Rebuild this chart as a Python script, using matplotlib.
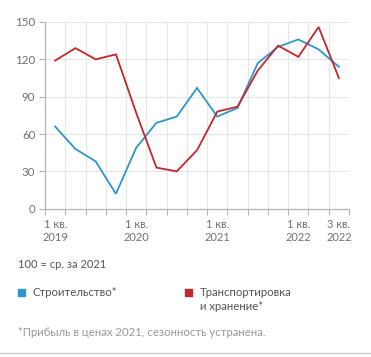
import matplotlib
matplotlib.use("Agg")
import matplotlib.pyplot as plt
from matplotlib.patches import Rectangle
from matplotlib.lines import Line2D

plt.rcParams['font.family'] = ['Lato', 'DejaVu Sans']

quarters = ["1 кв. 2019", "2 кв. 2019", "3 кв. 2019", "4 кв. 2019",
            "1 кв. 2020", "2 кв. 2020", "3 кв. 2020", "4 кв. 2020",
            "1 кв. 2021", "2 кв. 2021", "3 кв. 2021", "4 кв. 2021",
            "1 кв. 2022", "2 кв. 2022", "3 кв. 2022"]
construction = [66, 48, 38, 12, 49, 69, 74, 97, 74, 81, 117, 130, 136, 128, 114]
transport = [119, 129, 120, 124, 77, 33, 30, 47, 78, 82, 111, 131, 122, 146, 105]
tick_idx = [0, 4, 8, 12, 14]
tick_labels = ["1 кв.\n2019", "1 кв.\n2020", "1 кв.\n2021", "1 кв.\n2022", "3 кв.\n2022"]
yticks = [0, 30, 60, 90, 120, 150]

blue = "#2E96C8"
red = "#C1272D"
grid_c = "#E6E6E6"
axis_c = "#B5B5B5"
tick_c = "#707070"

W, H = 371, 357
fig = plt.figure(figsize=(W / 100, H / 100), dpi=100)
fig.patch.set_facecolor("white")
ax = fig.add_axes([45 / W, 1 - 208.7 / H, (349 - 45) / W, (208.7 - 22) / H])

xs = [i + 0.5 for i in range(len(quarters))]
ax.plot(xs, construction, color=blue, lw=1.3, solid_joinstyle="miter", zorder=3)
ax.plot(xs, transport, color=red, lw=1.3, solid_joinstyle="miter", zorder=3)

ax.set_xlim(0, 15)
ax.set_ylim(0, 150)
for v in range(1, 16):
    ax.axvline(v, color=grid_c, lw=0.8, zorder=1)
for v in yticks[1:]:
    ax.axhline(v, color=grid_c, lw=0.8, zorder=1)

ax.set_yticks(yticks)
ax.set_yticklabels([str(v) for v in yticks])
ax.set_xticks(list(range(16)), minor=True)
ax.set_xticks([xs[i] for i in tick_idx])
ax.set_xticklabels(tick_labels, linespacing=1.25)
ax.tick_params(axis="x", which="major", length=0, pad=7.5, labelsize=8.0, labelcolor=tick_c)
ax.tick_params(axis="x", which="minor", length=4, color=axis_c, width=0.8)
ax.tick_params(axis="y", length=4, color=axis_c, width=0.8, pad=3, labelsize=8.3, labelcolor=tick_c)

for s in ["top", "right"]:
    ax.spines[s].set_visible(False)
for s in ["left", "bottom"]:
    ax.spines[s].set_color(axis_c)
    ax.spines[s].set_linewidth(0.9)

def fx(px):
    return px / W

def fy(py):
    return 1 - py / H

fig.text(fx(18), fy(265), "100 = ср. за 2021", fontsize=8.0, color="#555555", va="center")

fig.patches.append(Rectangle((fx(18), fy(296)), 7 / W, 7 / H, transform=fig.transFigure,
                             color=blue, figure=fig))
fig.text(fx(32.5), fy(292.5), "Строительство*", fontsize=8.2, color="#555555", va="center")
fig.patches.append(Rectangle((fx(185), fy(296)), 7 / W, 7 / H, transform=fig.transFigure,
                             color=red, figure=fig))
fig.text(fx(200), fy(292.5), "Транспортировка", fontsize=8.2, color="#555555", va="center")
fig.text(fx(200), fy(306.5), "и хранение*", fontsize=8.2, color="#555555", va="center")

fig.text(fx(18), fy(333), "*Прибыль в ценах 2021, сезонность устранена.", fontsize=8.2,
         color="#9A9A9A", va="center")

fig.add_artist(Line2D([0, 1], [fy(353), fy(353)], transform=fig.transFigure, color="#CCCCCC", lw=1))

fig.savefig("out.png", dpi=100, facecolor="white")
